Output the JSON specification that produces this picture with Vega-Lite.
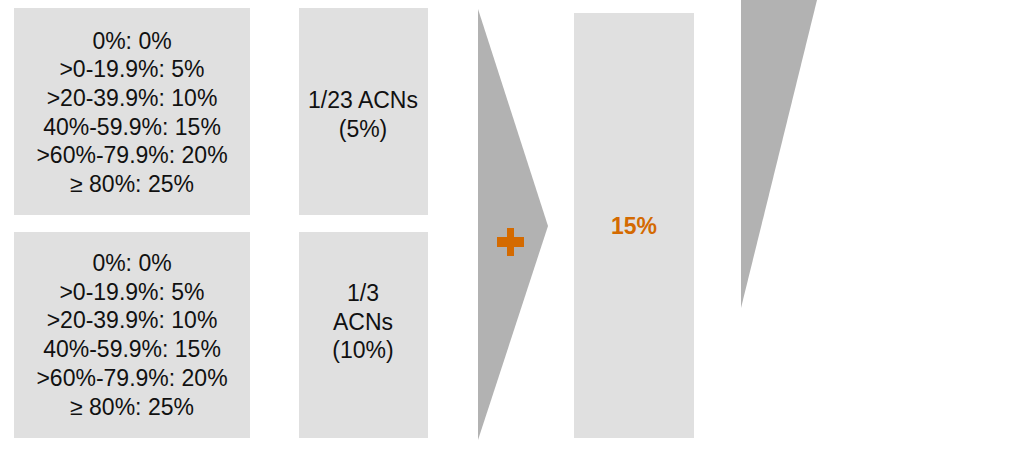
{
  "$schema": "https://vega.github.io/schema/vega-lite/v6.json",
  "width": 1020,
  "height": 449,
  "padding": 0,
  "autosize": {"type": "none"},
  "background": "white",
  "config": {"view": {"stroke": null}},
  "datasets": {
    "boxes": [
      {"id": "tier_a", "x": 14, "x2": 250, "y": 8, "y2": 215},
      {"id": "tier_b", "x": 14, "x2": 250, "y": 232, "y2": 438},
      {"id": "acn_a", "x": 299, "x2": 428, "y": 8, "y2": 215},
      {"id": "acn_b", "x": 299, "x2": 428, "y": 232, "y2": 438},
      {"id": "total", "x": 574, "x2": 694, "y": 13, "y2": 438}
    ],
    "shapes": [
      {"shape": "arrow", "x": 478, "y": 9, "y2": 440},
      {"shape": "arrow", "x": 548, "y": 226, "y2": 226},
      {"shape": "wedge", "x": 741, "y": 0, "y2": 308},
      {"shape": "wedge", "x": 817, "y": 0, "y2": 0}
    ],
    "plus": [
      {"x": 497, "x2": 524, "y": 237, "y2": 247},
      {"x": 507, "x2": 514, "y": 228, "y2": 256}
    ],
    "labels": [
      {"x": 132, "y": 41.5, "text": "0%: 0%\n>0-19.9%: 5%\n>20-39.9%: 10%\n40%-59.9%: 15%\n>60%-79.9%: 20%\n≥ 80%: 25%"},
      {"x": 132, "y": 264, "text": "0%: 0%\n>0-19.9%: 5%\n>20-39.9%: 10%\n40%-59.9%: 15%\n>60%-79.9%: 20%\n≥ 80%: 25%"},
      {"x": 363, "y": 101, "text": "1/23 ACNs\n(5%)"},
      {"x": 363, "y": 294, "text": "1/3\nACNs\n(10%)"}
    ],
    "result": [
      {"x": 634, "y": 227, "text": "15%"}
    ]
  },
  "layer": [
    {
      "data": {"name": "boxes"},
      "mark": {"type": "rect", "color": "#E0E0E0"},
      "encoding": {
        "x": {"field": "x", "type": "quantitative", "scale": {"domain": [0, 1020], "nice": false, "zero": false}, "axis": null},
        "x2": {"field": "x2"},
        "y": {"field": "y", "type": "quantitative", "scale": {"domain": [0, 449], "nice": false, "zero": false, "reverse": true}, "axis": null},
        "y2": {"field": "y2"}
      }
    },
    {
      "data": {"name": "shapes"},
      "mark": {"type": "area", "color": "#B2B2B2", "orient": "vertical", "opacity": 1},
      "encoding": {
        "x": {"field": "x", "type": "quantitative", "axis": null},
        "y": {"field": "y", "type": "quantitative", "stack": null, "axis": null},
        "y2": {"field": "y2"},
        "detail": {"field": "shape"}
      }
    },
    {
      "data": {"name": "plus"},
      "mark": {"type": "rect", "color": "#D46A00"},
      "encoding": {
        "x": {"field": "x", "type": "quantitative", "axis": null},
        "x2": {"field": "x2"},
        "y": {"field": "y", "type": "quantitative", "axis": null},
        "y2": {"field": "y2"}
      }
    },
    {
      "data": {"name": "labels"},
      "mark": {"type": "text", "font": "Liberation Sans", "fontSize": 23, "color": "#111111", "align": "center", "baseline": "middle", "lineBreak": "\n", "lineHeight": 28.7},
      "encoding": {
        "x": {"field": "x", "type": "quantitative", "axis": null},
        "y": {"field": "y", "type": "quantitative", "axis": null},
        "text": {"field": "text"}
      }
    },
    {
      "data": {"name": "result"},
      "mark": {"type": "text", "font": "Liberation Sans", "fontSize": 23, "fontWeight": "bold", "color": "#D46A00", "align": "center", "baseline": "middle"},
      "encoding": {
        "x": {"field": "x", "type": "quantitative", "axis": null},
        "y": {"field": "y", "type": "quantitative", "axis": null},
        "text": {"field": "text"}
      }
    }
  ]
}
